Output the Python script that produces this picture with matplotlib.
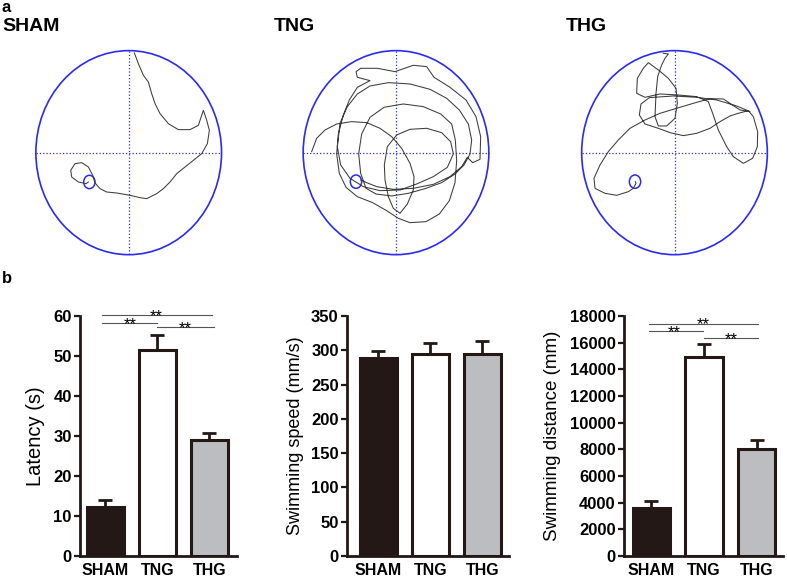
import matplotlib
matplotlib.use("Agg")
import matplotlib.pyplot as plt
from matplotlib.patches import Ellipse

plt.rcParams['font.family'] = ['Liberation Sans', 'DejaVu Sans']

# ---- panel a: swim tracks (camera coordinates, y grows downward) ----
track_titles = ["SHAM", "TNG", "THG"]

sham_x = [403, 415, 430, 445, 455, 465, 480, 505, 535, 570, 595, 610, 620, 628, 622, 605,
          580, 555, 530, 510, 490, 470, 440, 420, 390, 350, 320, 300, 285, 278, 265, 245,
          225, 212, 215, 235, 258, 265]
sham_y = [158, 190, 225, 245, 280, 310, 340, 370, 388, 388, 375, 330, 360, 390, 430, 460,
          480, 500, 520, 545, 565, 580, 595, 592, 585, 578, 575, 565, 548, 525, 500, 487,
          490, 510, 530, 545, 550, 545]

tng_x = [125, 140, 165, 200, 245, 290, 330, 365, 395, 420, 432, 430, 412, 390, 370, 355,
         345, 343, 352, 380, 420, 470, 515, 542, 550, 532, 490, 440, 390, 330, 280, 240,
         212, 202, 210, 232, 262, 300, 355, 420, 480, 530, 568, 595, 605, 600, 582, 555,
         515, 465, 415, 365, 318, 288, 272, 266, 275, 300, 342, 400, 460, 512, 545, 556,
         560, 555, 538, 508, 468, 420, 385, 350, 308, 262, 228, 208, 200, 205, 220, 238,
         262, 300, 262, 258, 272, 322, 375, 430, 470, 492, 540, 588, 618, 632, 630, 608,
         592, 575, 540, 490, 430, 370, 320, 290, 272]
tng_y = [455, 415, 390, 372, 365, 368, 385, 410, 445, 490, 530, 570, 612, 640, 625, 590,
         540, 495, 440, 405, 388, 385, 398, 425, 462, 502, 530, 552, 570, 572, 560, 535,
         495, 440, 370, 320, 282, 258, 248, 252, 268, 295, 330, 372, 420, 462, 495, 522,
         548, 566, 580, 588, 582, 565, 520, 462, 402, 352, 322, 312, 320, 342, 372, 420,
         482, 548, 602, 642, 665, 668, 655, 632, 608, 590, 562, 520, 462, 402, 345, 300,
         262, 242, 232, 215, 205, 205, 215, 196, 200, 232, 262, 300, 350, 410, 478, 488,
         472, 500, 530, 553, 565, 568, 560, 548, 540]

thg_x = [400, 415, 405, 395, 383, 378, 375, 385, 410, 435, 442, 438, 415, 385, 355, 340,
         322, 320, 345, 390, 445, 500, 535, 548, 565, 590, 610, 640, 668, 682, 683, 670,
         655, 625, 600, 570, 540, 500, 460, 420, 385, 345, 328, 333, 358, 430, 500, 560,
         620, 660, 630, 580, 540, 490, 440, 390, 345, 300, 265, 235, 210, 192, 195, 225,
         260, 295, 310, 318, 316]
thg_y = [160, 162, 175, 195, 230, 280, 350, 378, 378, 355, 310, 265, 235, 210, 188, 205,
         235, 280, 292, 282, 285, 290, 305, 340, 390, 440, 470, 490, 475, 440, 395, 350,
         332, 340, 348, 365, 385, 400, 407, 398, 385, 372, 345, 312, 293, 288, 292, 300,
         318, 335, 330, 297, 296, 310, 325, 340, 360, 385, 420, 455, 495, 535, 565, 580,
         586, 575, 565, 550, 545]

tracks_x = [sham_x, tng_x, thg_x]
tracks_y = [sham_y, tng_y, thg_y]
arena_cx = [386, 378, 433.5]
arena_cy = [457, 458, 458]
platform_x = [268, 258, 315]
platform_y = [545, 545, 545]

# ---- panel b: bar data ----
groups = ["SHAM", "TNG", "THG"]
latency = [12.3, 51.4, 28.9]
latency_err = [1.6, 3.9, 1.9]
speed = [289, 295, 295]
speed_err = [10.5, 16, 18]
distance = [3600, 14925, 8000]
distance_err = [525, 950, 725]

bar_colors = ['#231815', 'white', '#bcbdc0']
dark = '#231815'
arena_blue = '#2a2af0'

fig = plt.figure(figsize=(7.87, 5.82), dpi=100)

# arena axes centres in figure pixels
centres_px = [128.7, 396, 674.5]
for i in range(3):
    cxp = centres_px[i]
    ax = fig.add_axes([(cxp - 95) / 787, (582 - 257) / 582, 190 / 787, 208.7 / 582])
    cx, cy = arena_cx[i], arena_cy[i]
    ax.set_xlim(cx - 285, cx + 285)
    ax.set_ylim(cy + 313, cy - 313)
    ax.axis('off')
    ax.add_patch(Ellipse((cx, cy), 557, 612, fill=False, edgecolor=arena_blue, lw=1.2))
    ax.plot([cx, cx], [cy - 306, cy + 306], ':', color=arena_blue, lw=0.9)
    ax.plot([cx - 278, cx + 278], [cy, cy], ':', color=arena_blue, lw=0.9)
    ax.add_patch(Ellipse((platform_x[i], platform_y[i]), 34, 40, fill=False,
                         edgecolor=arena_blue, lw=1.1))
    ax.plot(tracks_x[i], tracks_y[i], color='#3c3c3c', lw=0.75)

fig.text(2 / 787, 1 - 12 / 582, "a", fontsize=12, fontweight='bold', va='baseline')
fig.text(2 / 787, 1 - 31 / 582, "SHAM", fontsize=14, fontweight='bold', va='baseline')
fig.text(274 / 787, 1 - 31 / 582, "TNG", fontsize=14, fontweight='bold', va='baseline')
fig.text(566 / 787, 1 - 31 / 582, "THG", fontsize=14, fontweight='bold', va='baseline')
fig.text(2 / 787, 1 - 283 / 582, "b", fontsize=12, fontweight='bold', va='baseline')


def draw_bars(rect, vals, errs, ymax, ystep, ylabel, label_size, xlim, label_x, sigs=None):
    ax = fig.add_axes(rect)
    x = [0, 1, 2]
    ax.errorbar(x, vals, yerr=[[0, 0, 0], errs], fmt='none', ecolor=dark,
                elinewidth=2, capsize=4.7, capthick=2, zorder=1)
    ax.bar(x, vals, width=0.71, color=bar_colors, edgecolor=dark, linewidth=2.2, zorder=2)
    ax.set_xlim(*xlim)
    ax.set_ylim(0, ymax)
    ax.set_yticks(range(0, ymax + 1, ystep))
    ax.set_xticks(x)
    ax.set_xticklabels(groups, fontsize=11.5, fontweight='bold')
    for t in ax.get_yticklabels():
        t.set_fontweight('bold')
        t.set_fontsize(12)
    ax.tick_params(axis='y', length=4.5, width=1.6, pad=1.5, colors=dark, labelcolor='black')
    ax.tick_params(axis='x', length=0, pad=5)
    for s in ['top', 'right']:
        ax.spines[s].set_visible(False)
    for s in ['left', 'bottom']:
        ax.spines[s].set_linewidth(2)
        ax.spines[s].set_color(dark)
    ax.set_ylabel(ylabel, fontsize=label_size)
    ax.yaxis.set_label_coords(label_x, 0.5)
    if sigs:
        for x0, x1, yl, tx in sigs:
            ax.plot([x0, x1], [yl, yl], color='#555555', lw=0.8, clip_on=False)
            ax.annotate("**", xy=(tx, yl), xytext=(0, -4.2), textcoords='offset points',
                        ha='center', va='baseline', fontsize=12, annotation_clip=False)
    return ax


draw_bars([80 / 787, 26 / 582, 157 / 787, 240 / 582], latency, latency_err, 60, 10,
          "Latency (s)", 14.5, (-0.49, 2.53), -0.223,
          [(-0.07, 0.99, 58.3, 0.47), (-0.07, 2.05, 60.25, 0.97),
           (0.99, 2.09, 57.3, 1.53)])
draw_bars([347 / 787, 26 / 582, 162 / 787, 240 / 582], speed, speed_err, 350, 50,
          "Swimming speed (mm/s)", 13, (-0.6, 2.51), -0.265)
draw_bars([624 / 787, 26 / 582, 159 / 787, 240 / 582], distance, distance_err, 18000, 2000,
          "Swimming distance (mm)", 13.5, (-0.52, 2.5), -0.396,
          [(-0.05, 0.98, 16850, 0.43), (-0.05, 2.03, 17425, 0.98),
           (1.0, 2.03, 16350, 1.51)])

fig.savefig("out.png", dpi=100)
